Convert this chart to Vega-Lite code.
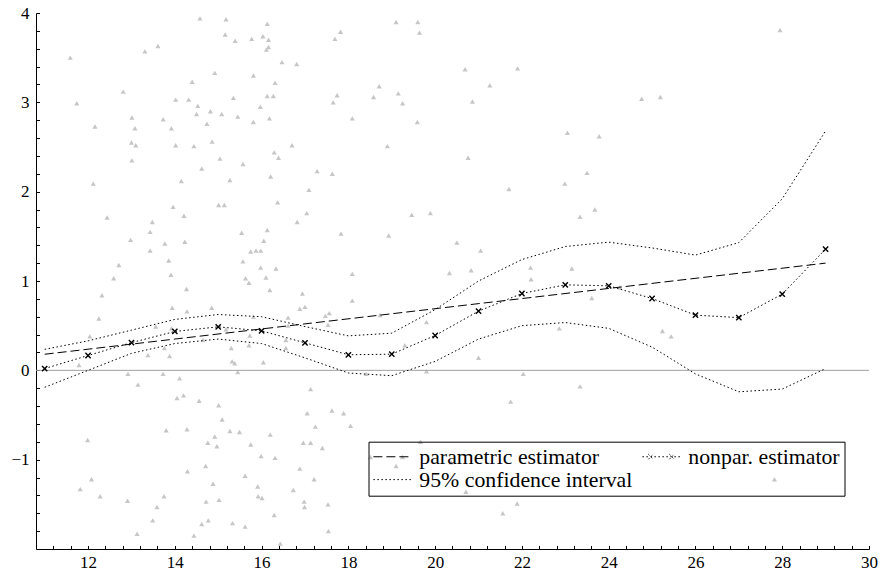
{
"$schema": "https://vega.github.io/schema/vega-lite/v6.json",
"width": 833, "height": 536,
"autosize": "none",
"padding": {"left": 36, "top": 13, "right": 11, "bottom": 28},
"background": "white",
"config": {
  "view": {"stroke": null},
  "axis": {"domainColor": "black", "tickColor": "black", "labelColor": "black", "labelFont": "Liberation Serif", "labelFontSize": 17, "grid": false, "title": null, "domainWidth": 1, "tickWidth": 1}
},
"datasets": {
"obs": [
{"x":14.58,"y":3.94},{"x":15.18,"y":3.93},{"x":11.59,"y":3.50},{"x":11.74,"y":2.99},{"x":12.16,"y":2.73},{"x":12.81,"y":3.12},{"x":13.31,"y":3.57},{"x":13.61,"y":3.63},{"x":15.16,"y":3.76},{"x":15.39,"y":3.69},{"x":15.77,"y":3.71},{"x":16.03,"y":3.74},{"x":16.16,"y":3.70},{"x":16.13,"y":3.88},{"x":16.11,"y":3.59},{"x":16.16,"y":3.62},{"x":16.47,"y":3.45},{"x":16.81,"y":3.43},{"x":14.92,"y":3.33},{"x":15.81,"y":3.30},{"x":14.40,"y":3.23},{"x":16.31,"y":3.22},{"x":14.02,"y":3.03},{"x":14.32,"y":3.03},{"x":14.53,"y":2.96},{"x":15.35,"y":3.05},{"x":16.13,"y":3.07},{"x":16.27,"y":3.07},{"x":15.97,"y":2.95},{"x":14.50,"y":2.87},{"x":14.82,"y":2.90},{"x":15.08,"y":2.87},{"x":15.45,"y":2.84},{"x":15.81,"y":2.78},{"x":16.18,"y":2.82},{"x":13.01,"y":2.83},{"x":13.08,"y":2.71},{"x":13.73,"y":2.81},{"x":13.92,"y":2.71},{"x":14.74,"y":2.76},{"x":13.00,"y":2.55},{"x":13.10,"y":2.52},{"x":14.02,"y":2.52},{"x":14.44,"y":2.51},{"x":14.86,"y":2.56},{"x":16.70,"y":2.52},{"x":13.01,"y":2.35},{"x":15.04,"y":2.37},{"x":16.29,"y":2.44},{"x":16.39,"y":2.38},{"x":14.62,"y":2.26},{"x":15.57,"y":2.31},{"x":16.21,"y":2.17},{"x":12.12,"y":2.09},{"x":14.15,"y":2.12},{"x":15.27,"y":2.13},
{"x":12.44,"y":1.71},{"x":13.96,"y":1.83},{"x":15.01,"y":1.85},{"x":15.14,"y":1.85},{"x":16.37,"y":1.88},{"x":13.48,"y":1.66},{"x":13.43,"y":1.55},{"x":14.21,"y":1.73},{"x":15.54,"y":1.54},{"x":16.13,"y":1.57},{"x":16.82,"y":1.66},{"x":12.98,"y":1.46},{"x":13.77,"y":1.42},{"x":14.23,"y":1.44},{"x":16.05,"y":1.45},{"x":13.43,"y":1.34},{"x":15.57,"y":1.22},{"x":15.75,"y":1.33},{"x":15.87,"y":1.34},{"x":15.98,"y":1.34},{"x":13.86,"y":1.23},{"x":12.71,"y":1.18},{"x":15.98,"y":1.15},{"x":16.33,"y":1.14},{"x":13.91,"y":1.07},{"x":12.59,"y":1.03},{"x":15.63,"y":1.03},{"x":15.71,"y":0.98},{"x":16.10,"y":1.04},{"x":14.27,"y":0.91},{"x":16.19,"y":0.90},{"x":12.32,"y":0.84},{"x":13.94,"y":0.70},{"x":14.28,"y":0.66},{"x":14.85,"y":0.70},{"x":16.88,"y":0.69},{"x":12.25,"y":0.58},{"x":15.81,"y":0.60},{"x":16.61,"y":0.59},{"x":13.56,"y":0.49},{"x":13.92,"y":0.47},{"x":12.04,"y":0.38},{"x":15.18,"y":0.46},{"x":15.73,"y":0.39},{"x":16.61,"y":0.50},{"x":13.76,"y":0.25},{"x":13.38,"y":0.17},{"x":13.88,"y":0.16},{"x":14.65,"y":0.34},{"x":15.71,"y":0.28},{"x":16.56,"y":0.34},{"x":16.56,"y":0.25},{"x":15.30,"y":0.25},{"x":15.32,"y":0.10},{"x":15.38,"y":0.08},{"x":16.04,"y":0.09},{"x":11.79,"y":0.06},{"x":15.45,"y":-0.02},{"x":12.92,"y":-0.04},{"x":13.73,"y":-0.04},{"x":14.11,"y":-0.09},
{"x":13.15,"y":-0.16},{"x":14.05,"y":-0.31},{"x":14.20,"y":-0.28},{"x":14.56,"y":-0.34},{"x":15.01,"y":-0.39},{"x":15.09,"y":-0.55},{"x":13.80,"y":-0.67},{"x":14.28,"y":-0.66},{"x":15.27,"y":-0.68},{"x":15.49,"y":-0.69},{"x":16.20,"y":-0.72},{"x":11.99,"y":-0.78},{"x":14.76,"y":-0.81},{"x":14.92,"y":-0.74},{"x":14.97,"y":-0.85},{"x":15.75,"y":-0.83},{"x":15.99,"y":-0.96},{"x":16.31,"y":-0.98},{"x":16.88,"y":-1.10},{"x":14.29,"y":-1.13},{"x":14.71,"y":-1.07},{"x":15.62,"y":-1.18},{"x":12.08,"y":-1.22},{"x":11.82,"y":-1.33},{"x":14.88,"y":-1.27},{"x":15.91,"y":-1.30},{"x":15.92,"y":-1.41},{"x":16.01,"y":-1.43},{"x":16.73,"y":-1.34},{"x":12.28,"y":-1.41},{"x":12.91,"y":-1.46},{"x":13.75,"y":-1.41},{"x":13.59,"y":-1.53},{"x":14.72,"y":-1.47},{"x":15.02,"y":-1.45},{"x":16.29,"y":-1.62},{"x":13.49,"y":-1.68},{"x":14.77,"y":-1.68},{"x":14.62,"y":-1.72},{"x":15.33,"y":-1.71},{"x":15.62,"y":-1.75},{"x":13.13,"y":-1.83},{"x":14.44,"y":-1.85},{"x":16.43,"y":-1.94},
{"x":17.09,"y":2.02},{"x":17.04,"y":1.76},{"x":17.83,"y":1.53},{"x":18.93,"y":1.51},{"x":19.46,"y":1.74},{"x":19.89,"y":1.76},{"x":21.70,"y":2.03},{"x":22.99,"y":2.09},{"x":23.34,"y":1.72},{"x":23.68,"y":1.80},{"x":20.50,"y":1.43},{"x":21.05,"y":1.34},{"x":18.09,"y":1.08},{"x":20.33,"y":1.09},{"x":20.83,"y":1.12},{"x":22.20,"y":1.15},{"x":23.15,"y":1.14},{"x":22.21,"y":1.02},{"x":16.94,"y":0.86},{"x":17.00,"y":0.71},{"x":18.09,"y":0.78},{"x":17.47,"y":0.61},{"x":17.56,"y":0.64},{"x":17.53,"y":0.51},{"x":18.73,"y":0.62},{"x":19.80,"y":0.54},{"x":23.61,"y":0.81},{"x":22.86,"y":0.47},{"x":19.30,"y":0.28},{"x":21.00,"y":0.14},{"x":18.41,"y":-0.04},{"x":19.80,"y":-0.01},{"x":22.03,"y":-0.04},
{"x":25.24,"y":0.44},{"x":25.44,"y":0.38},{"x":24.26,"y":0.93},{"x":23.34,"y":-0.18},{"x":27.82,"y":-1.22},
{"x":17.13,"y":-0.21},{"x":17.05,"y":-0.48},{"x":17.62,"y":-0.45},{"x":17.89,"y":-0.48},{"x":17.24,"y":-0.63},{"x":18.05,"y":-0.62},{"x":16.96,"y":-0.81},{"x":17.13,"y":-0.81},{"x":17.40,"y":-0.87},{"x":17.21,"y":-1.22},{"x":16.98,"y":-1.47},{"x":16.99,"y":-1.53},{"x":17.53,"y":-1.50},{"x":17.54,"y":-1.80},{"x":18.51,"y":-0.97},{"x":19.10,"y":-1.07},{"x":19.25,"y":-0.97},{"x":19.66,"y":-0.80},{"x":20.37,"y":-1.03},{"x":20.71,"y":-1.36},{"x":21.74,"y":-0.35},{"x":21.56,"y":-1.60},{"x":21.89,"y":-1.49},
{"x":19.10,"y":3.90},{"x":19.60,"y":3.90},{"x":17.82,"y":3.79},{"x":17.69,"y":3.71},{"x":19.64,"y":3.78},{"x":20.69,"y":3.37},{"x":21.90,"y":3.38},{"x":21.26,"y":3.19},{"x":20.86,"y":3.01},{"x":18.71,"y":3.18},{"x":17.74,"y":3.08},{"x":17.65,"y":3.00},{"x":18.58,"y":3.06},{"x":19.15,"y":3.10},{"x":19.25,"y":2.99},{"x":18.09,"y":2.82},{"x":19.59,"y":2.78},{"x":18.90,"y":2.51},{"x":23.05,"y":2.66},{"x":23.78,"y":2.62},{"x":20.76,"y":2.38},{"x":17.28,"y":2.23},{"x":17.63,"y":2.20},{"x":23.50,"y":2.21},
{"x":27.95,"y":3.81},{"x":24.76,"y":3.04},{"x":25.19,"y":3.06}
],
"curves": [
{"s":"parametric estimator","p":"a","x":11,"y":0.18},{"s":"parametric estimator","p":"a","x":29,"y":1.20},
{"s":"nonpar. estimator","p":"b","x":11,"y":0.02},{"s":"nonpar. estimator","p":"b","x":12,"y":0.166},{"s":"nonpar. estimator","p":"b","x":13,"y":0.31},{"s":"nonpar. estimator","p":"b","x":14,"y":0.435},{"s":"nonpar. estimator","p":"b","x":15,"y":0.487},{"s":"nonpar. estimator","p":"b","x":16,"y":0.442},{"s":"nonpar. estimator","p":"b","x":17,"y":0.308},{"s":"nonpar. estimator","p":"b","x":18,"y":0.174},{"s":"nonpar. estimator","p":"b","x":19,"y":0.181},{"s":"nonpar. estimator","p":"b","x":20,"y":0.39},{"s":"nonpar. estimator","p":"b","x":21,"y":0.663},{"s":"nonpar. estimator","p":"b","x":22,"y":0.86},{"s":"nonpar. estimator","p":"b","x":23,"y":0.957},{"s":"nonpar. estimator","p":"b","x":24,"y":0.946},{"s":"nonpar. estimator","p":"b","x":25,"y":0.804},{"s":"nonpar. estimator","p":"b","x":26,"y":0.618},{"s":"nonpar. estimator","p":"b","x":27,"y":0.59},{"s":"nonpar. estimator","p":"b","x":28,"y":0.853},{"s":"nonpar. estimator","p":"b","x":29,"y":1.357},
{"s":"95% confidence interval","p":"u","x":11,"y":0.235},{"s":"95% confidence interval","p":"u","x":12,"y":0.33},{"s":"95% confidence interval","p":"u","x":13,"y":0.45},{"s":"95% confidence interval","p":"u","x":14,"y":0.57},{"s":"95% confidence interval","p":"u","x":15,"y":0.625},{"s":"95% confidence interval","p":"u","x":16,"y":0.60},{"s":"95% confidence interval","p":"u","x":17,"y":0.49},{"s":"95% confidence interval","p":"u","x":18,"y":0.386},{"s":"95% confidence interval","p":"u","x":19,"y":0.416},{"s":"95% confidence interval","p":"u","x":20,"y":0.68},{"s":"95% confidence interval","p":"u","x":21,"y":1.0},{"s":"95% confidence interval","p":"u","x":22,"y":1.24},{"s":"95% confidence interval","p":"u","x":23,"y":1.386},{"s":"95% confidence interval","p":"u","x":24,"y":1.435},{"s":"95% confidence interval","p":"u","x":25,"y":1.37},{"s":"95% confidence interval","p":"u","x":26,"y":1.29},{"s":"95% confidence interval","p":"u","x":27,"y":1.43},{"s":"95% confidence interval","p":"u","x":28,"y":1.92},{"s":"95% confidence interval","p":"u","x":29,"y":2.68},
{"s":"95% confidence interval","p":"l","x":11,"y":-0.19},{"s":"95% confidence interval","p":"l","x":12,"y":0.0},{"s":"95% confidence interval","p":"l","x":13,"y":0.19},{"s":"95% confidence interval","p":"l","x":14,"y":0.30},{"s":"95% confidence interval","p":"l","x":15,"y":0.35},{"s":"95% confidence interval","p":"l","x":16,"y":0.30},{"s":"95% confidence interval","p":"l","x":17,"y":0.14},{"s":"95% confidence interval","p":"l","x":18,"y":-0.03},{"s":"95% confidence interval","p":"l","x":19,"y":-0.06},{"s":"95% confidence interval","p":"l","x":20,"y":0.10},{"s":"95% confidence interval","p":"l","x":21,"y":0.35},{"s":"95% confidence interval","p":"l","x":22,"y":0.50},{"s":"95% confidence interval","p":"l","x":23,"y":0.535},{"s":"95% confidence interval","p":"l","x":24,"y":0.47},{"s":"95% confidence interval","p":"l","x":25,"y":0.26},{"s":"95% confidence interval","p":"l","x":26,"y":-0.04},{"s":"95% confidence interval","p":"l","x":27,"y":-0.24},{"s":"95% confidence interval","p":"l","x":28,"y":-0.21},{"s":"95% confidence interval","p":"l","x":29,"y":0.02}
]
},
"layer": [
{
  "data": {"name": "obs"},
  "mark": {"type": "point", "shape": "triangle-up", "filled": true, "color": "#c6c6c6", "size": 26, "opacity": 1},
  "encoding": {
    "x": {"field": "x", "type": "quantitative", "scale": {"domain": [10.8, 30], "nice": false, "zero": false},
      "axis": {"values": [11.2,11.6,12,12.4,12.8,13.2,13.6,14,14.4,14.8,15.2,15.6,16,16.4,16.8,17.2,17.6,18,18.4,18.8,19.2,19.6,20,20.4,20.8,21.2,21.6,22,22.4,22.8,23.2,23.6,24,24.4,24.8,25.2,25.6,26,26.4,26.8,27.2,27.6,28,28.4,28.8,29.2,29.6,30],
        "tickCount": 200,
        "labelExpr": "abs(datum.value/2 - round(datum.value/2)) < 0.01 ? format(datum.value, 'd') : ''",
        "tickSize": -3.5, "labelPadding": 8.5, "labelFlush": false, "labelOverlap": false,
        "encoding": {"ticks": {"update": {"y2": {"signal": "abs(datum.value/2 - round(datum.value/2)) < 0.01 ? -7 : -3.5"}}}}}},
    "y": {"field": "y", "type": "quantitative", "scale": {"domain": [-2, 4], "nice": false, "zero": false},
      "axis": {"values": [-1.8,-1.6,-1.4,-1.2,-1,-0.8,-0.6,-0.4,-0.2,0,0.2,0.4,0.6,0.8,1,1.2,1.4,1.6,1.8,2,2.2,2.4,2.6,2.8,3,3.2,3.4,3.6,3.8,4],
        "tickCount": 200,
        "labelExpr": "abs(datum.value - round(datum.value)) < 0.01 ? format(datum.value, 'd') : ''",
        "tickSize": -3.5, "labelPadding": 10.5, "labelFlush": false, "labelOverlap": false,
        "encoding": {"ticks": {"update": {"x2": {"signal": "abs(datum.value - round(datum.value)) < 0.01 ? 7 : 3.5"}}}}}}
  }
},
{
  "data": {"values": [{}]},
  "mark": {"type": "rule", "color": "#a0a0a0", "strokeWidth": 1},
  "encoding": {"y": {"datum": 0}}
},
{
  "data": {"name": "curves"},
  "mark": {"type": "line", "color": "black", "strokeWidth": 1},
  "encoding": {
    "x": {"field": "x", "type": "quantitative"},
    "y": {"field": "y", "type": "quantitative"},
    "detail": {"field": "p"},
    "strokeDash": {"field": "s", "type": "nominal",
      "scale": {"domain": ["parametric estimator", "95% confidence interval", "nonpar. estimator"], "range": [[9, 4], [1.5, 2.5], [1.5, 2.5]]},
      "legend": {"orient": "none", "legendX": 332.5, "legendY": 428.7, "columns": 2, "title": null,
        "labelFont": "Liberation Serif", "labelFontSize": 21.8, "labelColor": "black", "labelLimit": 400,
        "symbolType": "stroke", "symbolSize": 400, "symbolOffset": 9, "symbolStrokeColor": "black", "symbolStrokeWidth": 1,
        "strokeColor": "black", "padding": 4, "columnPadding": 7, "rowPadding": 0, "labelOffset": 16,
        "encode": {"symbols": {"update": {"shape": {"signal": "datum.value === 'nonpar. estimator' ? 'M-1.9,0L1.9,0M-1.3,-0.25L-0.8,0.25M-1.3,0.25L-0.8,-0.25M0.8,-0.25L1.3,0.25M0.8,0.25L1.3,-0.25' : 'M-1.9,0L1.9,0'"}}}}}
    }
  }
},
{
  "data": {"name": "curves"},
  "transform": [{"filter": "datum.s === 'nonpar. estimator'"}],
  "mark": {"type": "point", "shape": "M-1,-1L1,1M-1,1L1,-1", "filled": false, "color": "black", "strokeWidth": 1.4, "size": 28, "opacity": 1},
  "encoding": {
    "x": {"field": "x", "type": "quantitative"},
    "y": {"field": "y", "type": "quantitative"}
  }
}
]
}
